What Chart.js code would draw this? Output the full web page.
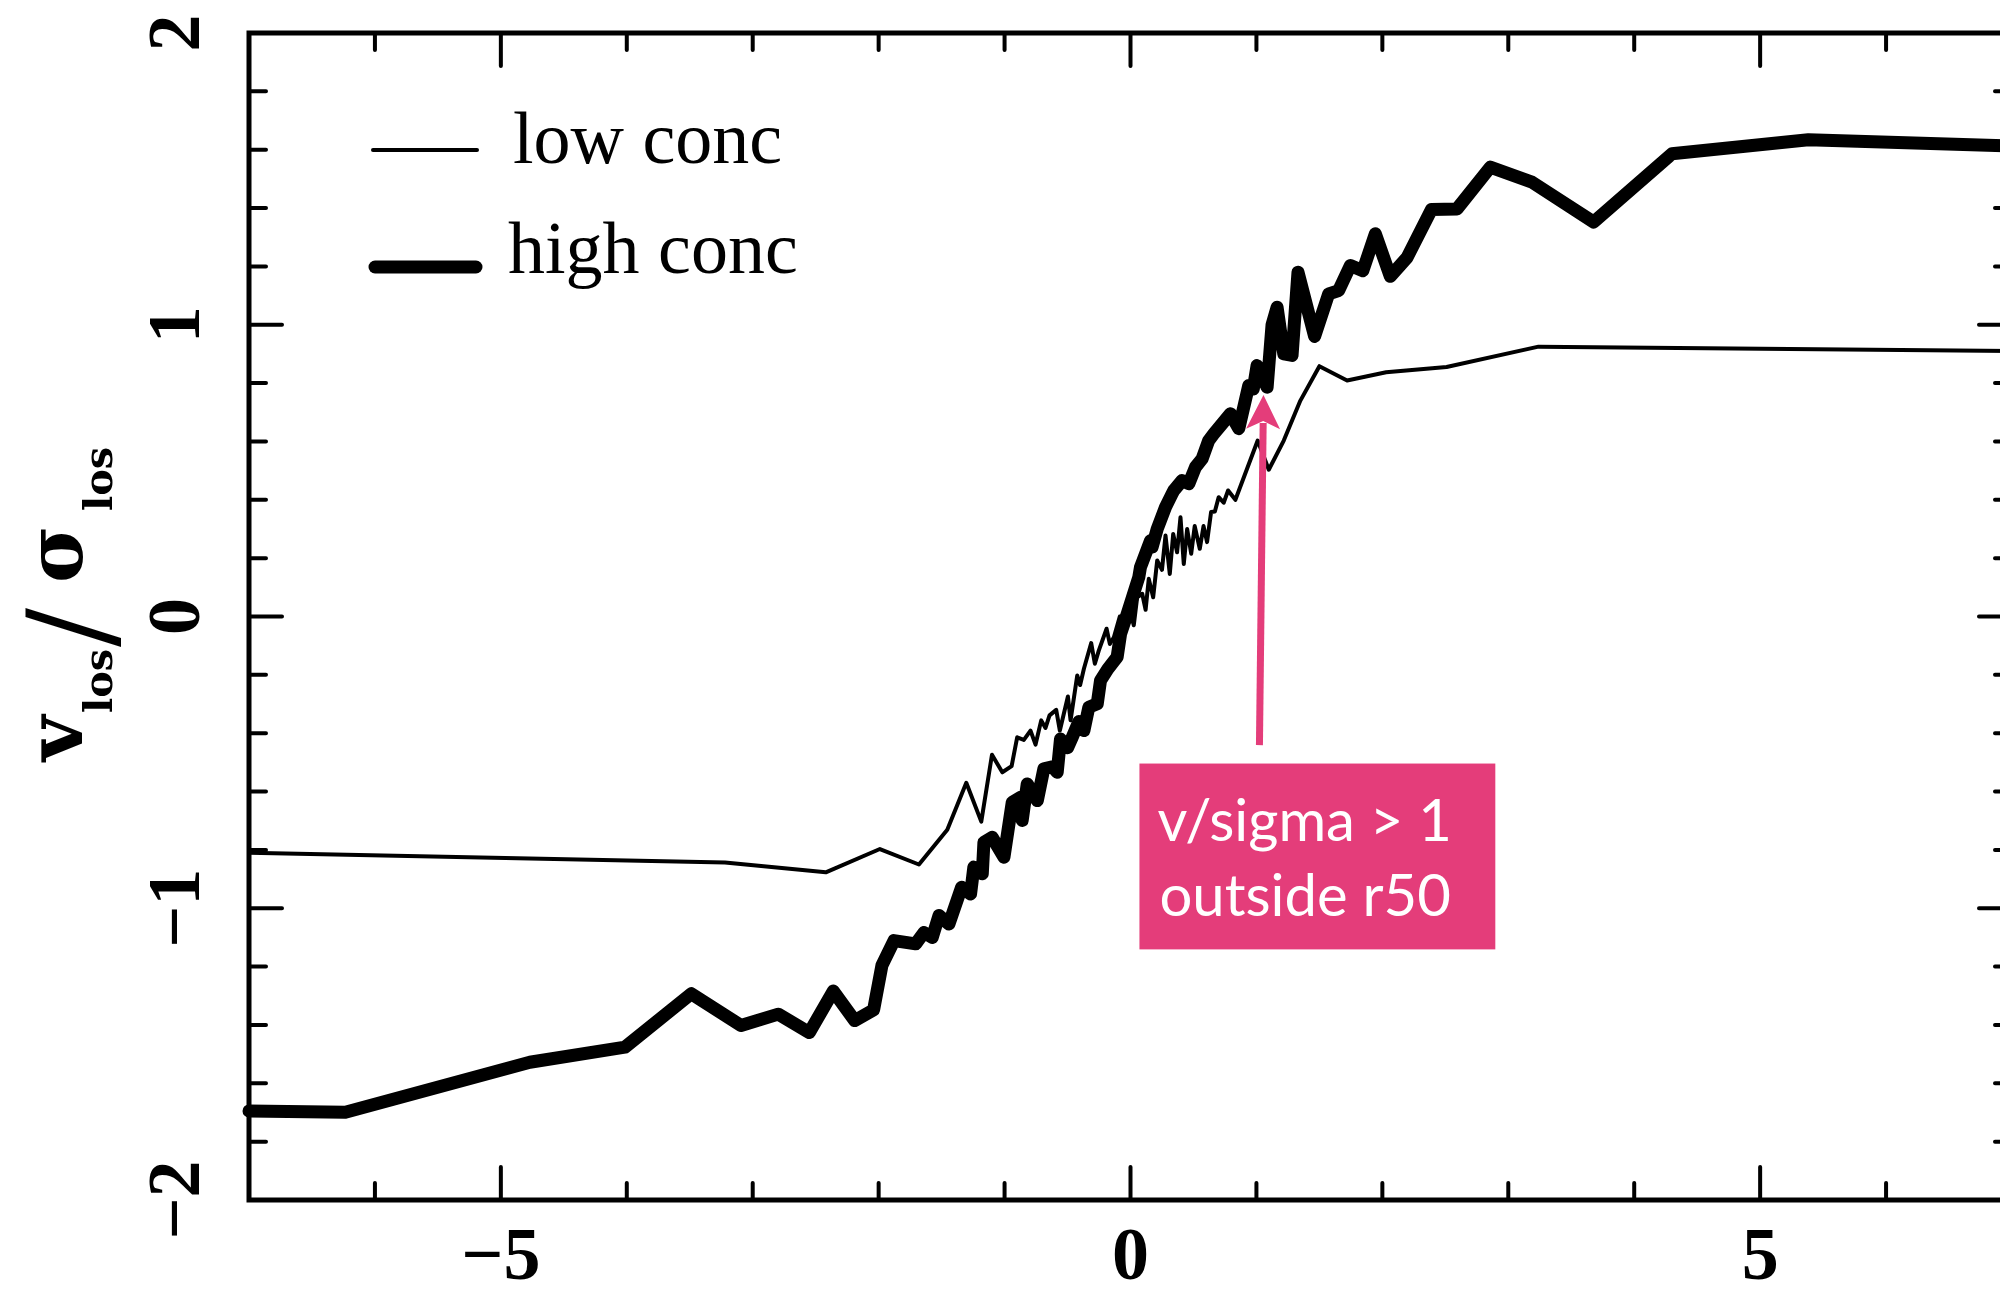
<!DOCTYPE html>
<html>
<head>
<meta charset="utf-8">
<script src="https://cdn.jsdelivr.net/npm/chart.js@4.4.1/dist/chart.umd.min.js"></script>
<style>
  html, body { margin: 0; padding: 0; background: #ffffff; overflow: hidden; }
  #wrap { position: relative; width: 2040px; height: 1290px; }
</style>
</head>
<body>
<div id="wrap"><canvas id="c" width="2040" height="1290"></canvas></div>
<script>
// Rotation profile along the slit: position vs v_los / sigma_los
const lowX = [-7.00, -3.22, -2.42, -1.99, -1.68, -1.455, -1.304, -1.185, -1.10, -1.018, -0.944, -0.90, -0.847, -0.794, -0.754,
  -0.709, -0.675, -0.643, -0.59, -0.561, -0.497, -0.476, -0.423, -0.40, -0.37, -0.312, -0.283, -0.252, -0.19, -0.164, -0.132,
  -0.085, -0.053, -0.013, 0.026, 0.053, 0.093, 0.12, 0.145, 0.18, 0.212, 0.25, 0.278, 0.312, 0.339, 0.37, 0.397, 0.423, 0.45,
  0.482, 0.51, 0.55, 0.58, 0.608, 0.64, 0.67, 0.70, 0.74, 0.775, 0.833, 1.01, 1.098, 1.217, 1.349, 1.50, 1.72, 2.03, 2.51, 3.24, 7.00];
const lowY = [-0.81, -0.843, -0.877, -0.797, -0.850, -0.731, -0.570, -0.703, -0.474, -0.534, -0.513, -0.414, -0.423, -0.391, -0.439,
  -0.356, -0.382, -0.339, -0.320, -0.391, -0.274, -0.356, -0.202, -0.235, -0.179, -0.091, -0.162, -0.117, -0.042, -0.094, -0.071,
  0.0, -0.025, 0.032, -0.03, 0.066, 0.078, 0.023, 0.129, 0.066, 0.192, 0.16, 0.278, 0.146, 0.283, 0.22, 0.34, 0.18, 0.30,
  0.215, 0.31, 0.232, 0.31, 0.255, 0.358, 0.36, 0.409, 0.39, 0.432, 0.40, 0.603, 0.503, 0.603, 0.740, 0.858, 0.809, 0.837, 0.855, 0.925, 0.91];

const highX = [-7.00, -6.235, -4.77, -4.014, -3.488, -3.093, -2.797, -2.55, -2.36, -2.19, -2.04, -1.974, -1.878, -1.706, -1.64,
  -1.574, -1.521, -1.442, -1.341, -1.27, -1.244, -1.177, -1.164, -1.098, -1.005, -0.939, -0.873, -0.86, -0.82, -0.74, -0.688,
  -0.62, -0.582, -0.556, -0.50, -0.463, -0.41, -0.37, -0.331, -0.264, -0.238, -0.18, -0.106, -0.079, -0.026, 0.066, 0.079, 0.159, 0.172, 0.212,
  0.278, 0.331, 0.344, 0.41, 0.463, 0.516, 0.569, 0.621, 0.661, 0.794, 0.86, 0.939, 0.975, 1.005, 1.085, 1.124, 1.164, 1.217,
  1.283, 1.33, 1.462, 1.574, 1.653, 1.746, 1.845, 1.944, 2.063, 2.196, 2.39, 2.593, 2.857, 3.188, 3.677, 4.299, 5.383, 7.00];
const highY = [-1.695, -1.699, -1.528, -1.476, -1.293, -1.402, -1.363, -1.426, -1.284, -1.385, -1.348, -1.196, -1.111, -1.122, -1.083,
  -1.100, -1.025, -1.054, -0.928, -0.951, -0.859, -0.882, -0.774, -0.757, -0.825, -0.637, -0.620, -0.699, -0.574, -0.631, -0.522,
  -0.515, -0.534, -0.420, -0.45, -0.414, -0.36, -0.391, -0.311, -0.299, -0.219, -0.18, -0.139, -0.06, 0.009, 0.135, 0.169, 0.26, 0.238, 0.30,
  0.375, 0.421, 0.432, 0.466, 0.455, 0.512, 0.541, 0.603, 0.626, 0.695, 0.644, 0.792, 0.78, 0.86, 0.786, 1.0, 1.06, 0.90,
  0.895, 1.18, 0.96, 1.106, 1.117, 1.203, 1.185, 1.312, 1.166, 1.23, 1.395, 1.397, 1.54, 1.489, 1.352, 1.586, 1.634, 1.613];

const seriesNames = ['low conc', 'high conc'];
const xTickLabels = [-5, 0, 5];
const yTickLabels = [-2, -1, 0, 1, 2];
const noteLines = ['v/sigma > 1', 'outside r50'];

// annotation placement in data units
const noteBox = { x0: 0.071, x1: 2.897, y0: -0.504, y1: -1.141 };
const noteArrow = { fromX: 1.024, fromY: -0.441, toX: 1.056, toY: 0.759 };
const PINK = 'rgb(228, 61, 122)';

function pairs(xs, ys) { return xs.map((x, i) => ({ x: x, y: ys[i] })); }
function fmt(v) { return v < 0 ? '\u2212' + Math.abs(v) : String(v); }
function isMajor(v) { return Math.abs(v - Math.round(v)) < 1e-6; }

const framePlugin = {
  id: 'frame',
  afterDraw(chart) {
    const ctx = chart.ctx;
    const xs = chart.scales.x, ys = chart.scales.y;
    const a = chart.chartArea;
    ctx.save();

    // box
    ctx.strokeStyle = '#000';
    ctx.lineWidth = 5;
    ctx.lineJoin = 'miter';
    ctx.strokeRect(a.left, a.top, a.right - a.left, a.bottom - a.top);

    // inward ticks on all four sides
    ctx.lineWidth = 4;
    ctx.lineCap = 'round';
    ctx.beginPath();
    xs.ticks.forEach(t => {
      const v = t.value;
      if (v <= xs.min || v >= xs.max) return;
      const px = xs.getPixelForValue(v);
      const len = (Math.abs(v) % 5 < 1e-6) ? 33 : 17;
      ctx.moveTo(px, a.bottom); ctx.lineTo(px, a.bottom - len);
      ctx.moveTo(px, a.top); ctx.lineTo(px, a.top + len);
    });
    ys.ticks.forEach(t => {
      const v = t.value;
      if (v <= ys.min + 1e-6 || v >= ys.max - 1e-6) return;
      const py = ys.getPixelForValue(v);
      const len = isMajor(v) ? 33 : 17;
      ctx.moveTo(a.left, py); ctx.lineTo(a.left + len, py);
      ctx.moveTo(a.right, py); ctx.lineTo(a.right - len, py);
    });
    ctx.stroke();

    // tick labels
    ctx.fillStyle = '#000';
    ctx.font = 'bold 74px "Liberation Serif"';
    ctx.textAlign = 'center';
    ctx.textBaseline = 'middle';
    xTickLabels.forEach(v => {
      ctx.fillText(fmt(v), xs.getPixelForValue(v), a.bottom + 60);
    });
    yTickLabels.forEach(v => {
      ctx.save();
      ctx.translate(a.left - 69, ys.getPixelForValue(v));
      ctx.rotate(-Math.PI / 2);
      ctx.fillText(fmt(v), 0, 0);
      ctx.restore();
    });

    // y axis title  v_los / sigma_los
    ctx.save();
    ctx.translate(82, 761);
    ctx.rotate(-Math.PI / 2);
    ctx.textAlign = 'left';
    ctx.textBaseline = 'alphabetic';
    ctx.font = 'bold 78px "DejaVu Serif"';
    ctx.fillText('v', 0, 0);
    ctx.font = 'bold 40px "DejaVu Serif"';
    ctx.fillText('los', 48, 30);
    ctx.font = '116px "DejaVu Serif"';
    ctx.fillText('/', 114, 28);
    ctx.font = 'bold 78px "DejaVu Serif"';
    ctx.fillText('\u03c3', 178, 0);
    ctx.font = 'bold 40px "DejaVu Serif"';
    ctx.fillText('los', 250, 30);
    ctx.restore();

    // legend
    const ds = chart.data.datasets;
    const rows = [{ y: 150, ty: 163, tx: 513, x0: 373, x1: 477 }, { y: 267, ty: 273, tx: 508, x0: 375, x1: 476 }];
    rows.forEach((r, i) => {
      ctx.strokeStyle = ds[i].borderColor;
      ctx.lineWidth = ds[i].borderWidth;
      ctx.lineCap = 'round';
      ctx.beginPath(); ctx.moveTo(r.x0, r.y); ctx.lineTo(r.x1, r.y); ctx.stroke();
      ctx.fillStyle = '#000';
      ctx.font = '74px "Liberation Serif"';
      ctx.textAlign = 'left';
      ctx.textBaseline = 'alphabetic';
      ctx.fillText(ds[i].label, r.tx, r.ty);
    });

    // annotation arrow
    const ax0 = xs.getPixelForValue(noteArrow.fromX), ay0 = ys.getPixelForValue(noteArrow.fromY);
    const ax1 = xs.getPixelForValue(noteArrow.toX), ay1 = ys.getPixelForValue(noteArrow.toY);
    const ang = Math.atan2(ay1 - ay0, ax1 - ax0);
    ctx.strokeStyle = PINK;
    ctx.fillStyle = PINK;
    ctx.lineWidth = 7;
    ctx.lineCap = 'butt';
    ctx.beginPath();
    ctx.moveTo(ax0, ay0);
    ctx.lineTo(ax1 - 28 * Math.cos(ang), ay1 - 28 * Math.sin(ang));
    ctx.stroke();
    ctx.save();
    ctx.translate(ax1, ay1);
    ctx.rotate(ang);
    ctx.beginPath();
    ctx.moveTo(0, 0);
    ctx.lineTo(-34, -17);
    ctx.lineTo(-26, 0);
    ctx.lineTo(-34, 17);
    ctx.closePath();
    ctx.fill();
    ctx.restore();

    // annotation box
    const bx0 = xs.getPixelForValue(noteBox.x0), bx1 = xs.getPixelForValue(noteBox.x1);
    const by0 = ys.getPixelForValue(noteBox.y0), by1 = ys.getPixelForValue(noteBox.y1);
    ctx.fillStyle = PINK;
    ctx.fillRect(bx0, by0, bx1 - bx0, by1 - by0);
    ctx.fillStyle = '#ffffff';
    ctx.font = '58px Lato';
    ctx.textAlign = 'left';
    ctx.textBaseline = 'alphabetic';
    ctx.fillText(noteLines[0], bx0 + 18, by0 + 77);
    ctx.fillText(noteLines[1], bx0 + 20, by0 + 152);

    ctx.restore();
  }
};

new Chart(document.getElementById('c'), {
  type: 'scatter',
  data: {
    datasets: [
      { label: seriesNames[0], data: pairs(lowX, lowY), showLine: true, borderColor: '#000', borderWidth: 4,
        pointRadius: 0, tension: 0, clip: false, borderJoinStyle: 'round', borderCapStyle: 'round' },
      { label: seriesNames[1], data: pairs(highX, highY), showLine: true, borderColor: '#000', borderWidth: 13,
        pointRadius: 0, tension: 0, clip: false, borderJoinStyle: 'round', borderCapStyle: 'round' }
    ]
  },
  options: {
    responsive: false,
    animation: false,
    devicePixelRatio: 1,
    layout: { padding: { left: 249, right: 28, top: 33, bottom: 90 } },
    plugins: { legend: { display: false }, tooltip: { enabled: false } },
    scales: {
      x: { type: 'linear', display: false, min: -7, max: 7, ticks: { stepSize: 1 } },
      y: { type: 'linear', display: false, min: -2, max: 2, ticks: { stepSize: 0.2 } }
    }
  },
  plugins: [framePlugin]
});
</script>
</body>
</html>
